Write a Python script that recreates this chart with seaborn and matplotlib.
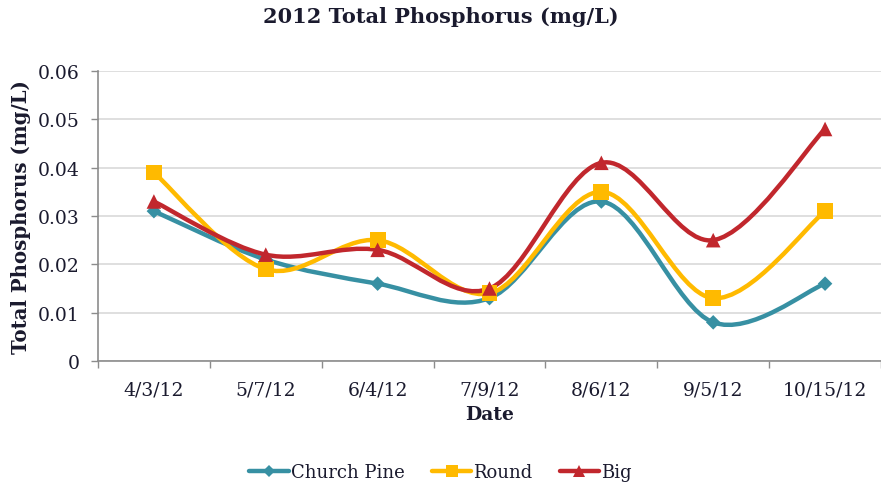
import numpy as np
import pandas as pd
import matplotlib
matplotlib.use("Agg")
import matplotlib.pyplot as plt
from matplotlib.path import Path
from matplotlib.patches import PathPatch
from matplotlib.lines import Line2D
import seaborn as sns

dates = ["4/3/12", "5/7/12", "6/4/12", "7/9/12", "8/6/12", "9/5/12", "10/15/12"]
church_pine = [0.031, 0.021, 0.016, 0.013, 0.033, 0.008, 0.016]
round_lake = [0.039, 0.019, 0.025, 0.014, 0.035, 0.013, 0.031]
big_lake = [0.033, 0.022, 0.023, 0.015, 0.041, 0.025, 0.048]

series = {"Church Pine": church_pine, "Round": round_lake, "Big": big_lake}
colors = {"Church Pine": "#3790A3", "Round": "#FFBA00", "Big": "#C1272D"}
markers = {"Church Pine": "D", "Round": "s", "Big": "^"}
msizes = {"Church Pine": 55, "Round": 130, "Big": 110}


def smooth_path(xs, ys):
    # Excel-style smoothed line: cubic Bezier through the points (Catmull-Rom)
    pts = np.column_stack([xs, ys])
    n = len(pts)
    verts = [pts[0]]
    codes = [Path.MOVETO]
    for i in range(n - 1):
        p0 = pts[max(i - 1, 0)]
        p1 = pts[i]
        p2 = pts[i + 1]
        p3 = pts[min(i + 2, n - 1)]
        c1 = p1 + (p2 - p0) / 6.0
        c2 = p2 - (p3 - p1) / 6.0
        verts += [c1, c2, p2]
        codes += [Path.CURVE4] * 3
    return Path(verts, codes)


rows = []
for name, vals in series.items():
    for i, v in enumerate(vals):
        rows.append({"x": i, "date": dates[i], "value": v, "site": name})
df = pd.DataFrame(rows)

sns.set_theme(style="white")
plt.rcParams["font.family"] = ["DejaVu Serif"]
text_color = "#1a1a2e"

fig = plt.figure(figsize=(8.81, 4.89), dpi=100)
ax = fig.add_axes([0.1112, 0.2597, 0.8888, 0.5931])

for name in series:
    sub = df[df["site"] == name]
    patch = PathPatch(smooth_path(sub["x"].values, sub["value"].values),
                      facecolor="none", edgecolor=colors[name], lw=3.2, zorder=3,
                      capstyle="round", joinstyle="round")
    ax.add_patch(patch)
    sns.scatterplot(data=sub, x="x", y="value", marker=markers[name],
                    color=colors[name], s=msizes[name], edgecolor="none",
                    zorder=4, ax=ax, legend=False)

ax.set_xlim(-0.5, 6.5)
ax.set_ylim(0, 0.06)
ax.set_yticks([0, 0.01, 0.02, 0.03, 0.04, 0.05, 0.06])
ax.set_yticklabels(["0", "0.01", "0.02", "0.03", "0.04", "0.05", "0.06"])
ax.set_xticks(range(len(dates)))
ax.set_xticklabels(dates)
ax.set_xticks(np.arange(-0.5, 7, 1), minor=True)
ax.tick_params(axis="x", which="major", length=0, pad=14, labelsize=13.5, colors=text_color)
ax.tick_params(axis="x", which="minor", length=5, width=1, color="#8c8c8c", bottom=True)
ax.tick_params(axis="y", which="major", length=5, width=1, color="#8c8c8c", left=True,
               labelsize=13.5, labelcolor=text_color, pad=8)

ax.grid(axis="y", color="#d9d9d9", lw=1.2)
ax.set_axisbelow(True)
for s in ["top", "right"]:
    ax.spines[s].set_visible(False)
for s in ["left", "bottom"]:
    ax.spines[s].set_color("#8c8c8c")
    ax.spines[s].set_linewidth(1.2)

ax.set_xlabel("Date", fontsize=13.5, fontweight="bold", labelpad=5, color=text_color)
ax.set_ylabel("Total Phosphorus (mg/L)", fontsize=14.2, fontweight="bold", labelpad=5,
              color=text_color)
fig.suptitle("2012 Total Phosphorus (mg/L)", fontsize=15, fontweight="bold", x=0.5,
             y=0.985, color=text_color)

handles = [Line2D([0], [0], color=colors[n], lw=3.2, marker=markers[n],
                  markersize=8 if n != "Church Pine" else 6, markeredgewidth=0)
           for n in series]
fig.legend(handles, list(series.keys()), loc="center", bbox_to_anchor=(0.5, 0.032),
           ncol=3, frameon=False, fontsize=13, handlelength=2.2, handletextpad=0.1,
           columnspacing=1.5, labelcolor=text_color)

fig.savefig("out.png", dpi=100)
